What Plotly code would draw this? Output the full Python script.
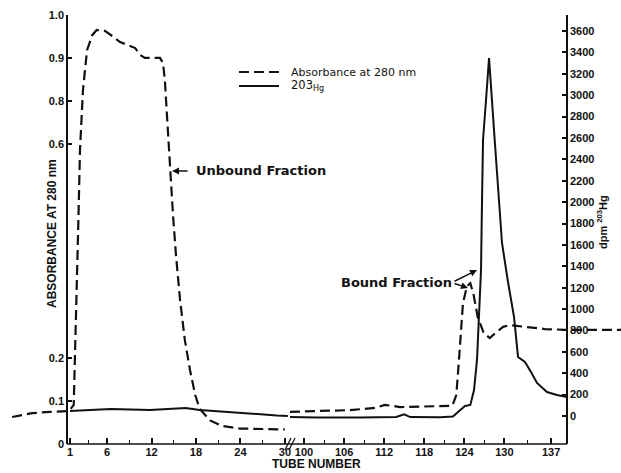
import plotly.graph_objects as go

W, H = 621, 473
ML, MR, MT, MB = 10, 0, 15, 29

# ---------------- data ----------------
# Absorbance at 280 nm, tubes 1-30 (before axis break)
abs_tube_a = [-6.8, -4.1, -1.7, 0.9, 1.5, 1.8, 2.1, 2.35, 2.75, 3.3, 4.0, 4.6, 5.7, 6.7,
              7.75, 8.8, 9.8, 10.45, 11.1, 13.15, 13.55, 13.8, 14.1, 14.5, 14.9, 15.3,
              15.85, 16.5, 17.2, 17.9, 18.5, 19.9, 21.5, 23.9, 30.0]
abs_val_a = [0.063, 0.072, 0.075, 0.077, 0.091, 0.266, 0.499, 0.685, 0.825, 0.918, 0.953,
             0.965, 0.963, 0.951, 0.937, 0.930, 0.923, 0.907, 0.900, 0.900, 0.888, 0.848,
             0.755, 0.639, 0.534, 0.441, 0.336, 0.242, 0.172, 0.114, 0.082, 0.055, 0.042,
             0.036, 0.034]
# Absorbance at 280 nm, tubes 100-137 (after axis break)
abs_tube_b = [97.9, 102.4, 106.9, 110.6, 112.1, 113.2, 114.4, 122.2, 122.8, 123.2, 123.8,
              124.4, 124.9, 125.4, 126.0, 126.9, 127.8, 128.7, 129.8, 130.8, 133.1, 136.1,
              139.4, 147.5]
abs_val_b = [0.075, 0.077, 0.079, 0.084, 0.091, 0.089, 0.086, 0.089, 0.114, 0.196, 0.329,
             0.368, 0.375, 0.347, 0.296, 0.259, 0.247, 0.259, 0.273, 0.277, 0.273, 0.268,
             0.266, 0.266]
# 203Hg dpm
hg_tube_a = [1, 3.7, 6.5, 11.8, 16.6, 18.5, 23.7, 28.9, 30.4]
hg_val_a = [47, 56, 65, 56, 75, 56, 28, 5, 0]
hg_tube_b = [97.9, 101.9, 108.4, 113.8, 115.0, 115.9, 120.4, 122.3, 123.1, 124.1, 124.9,
             125.45, 125.9, 126.2, 126.5, 126.65, 126.8, 127.25, 127.7, 128.6, 129.64,
             130.54, 131.44, 132.04, 133.08, 133.98, 134.88, 136.38, 137.87, 139.37]
hg_val_b = [-10, -15, -15, -10, 15, -10, -12, -5, 40, 94, 103, 243, 524, 898, 1365, 2020,
            2581, 2955, 3348, 2534, 1618, 1253, 926, 552, 505, 411, 309, 224, 196, 178]

# axis ticks
abs_tickvals = [0, 0.1, 0.2, 0.7, 0.8, 0.9, 1.0]
abs_ticktext = ["0", "0.1", "0.2", "0.6", "0.8", "0.9", "1.0"]
hg_tickvals = list(range(0, 3601, 200))
tube_ticks_a = [1, 6, 12, 18, 24, 30]
tube_minor_a = [3.5, 9, 15, 21, 27]
tube_ticks_b = [100, 106, 112, 118, 124, 130, 137]
tube_minor_b = [103, 109, 115, 121, 127, 133.5]

# ---------------- layout helpers ----------------
PW = W - ML - MR
PH = H - MT - MB


def px_x(px):
    return (px - ML) / PW


def px_y(py):
    return (H - MB - py) / PH


FONT = "Liberation Sans, Arial, sans-serif"
WIDE = "DejaVu Sans, Verdana, sans-serif"
BLACK = "#111111"
DASH = "10px,5px"

fig = go.Figure()
fig.add_trace(go.Scatter(x=abs_tube_a, y=abs_val_a, mode="lines", xaxis="x", yaxis="y",
                         line=dict(color=BLACK, width=2.2, dash=DASH), showlegend=False,
                         name="Absorbance at 280 nm"))
fig.add_trace(go.Scatter(x=abs_tube_b, y=abs_val_b, mode="lines", xaxis="x2", yaxis="y",
                         line=dict(color=BLACK, width=2.2, dash=DASH), showlegend=False,
                         name="Absorbance at 280 nm"))
fig.add_trace(go.Scatter(x=hg_tube_a, y=hg_val_a, mode="lines", xaxis="x", yaxis="y2",
                         line=dict(color=BLACK, width=2), showlegend=False, name="203Hg"))
fig.add_trace(go.Scatter(x=hg_tube_b, y=hg_val_b, mode="lines", xaxis="x2", yaxis="y2",
                         line=dict(color=BLACK, width=2), showlegend=False, name="203Hg"))

# x segment ranges from pixel layout: tube 1 at 70px, 7.41 px/tube; tube 100 at 304px, 6.68 px/tube
BREAK_PX = 290
xa_range = [1 + (ML - 70) / 7.41, 1 + (BREAK_PX - 70) / 7.41]
xb_range = [100 + (BREAK_PX - 304) / 6.68, 100 + (W - MR - 304) / 6.68]

tickfont = dict(family=FONT, size=11, color=BLACK, weight="bold")

common_x = dict(showline=False, showgrid=False, zeroline=False, ticks="inside", ticklen=6,
                tickwidth=1.5, tickcolor=BLACK, tickfont=tickfont, anchor="y",
                tickmode="array", automargin=False)

fig.update_layout(
    width=W, height=H,
    margin=dict(l=ML, r=MR, t=MT, b=MB, autoexpand=False),
    paper_bgcolor="white", plot_bgcolor="white",
    showlegend=False,
    xaxis=dict(domain=[0, px_x(BREAK_PX)], range=xa_range, tickvals=tube_ticks_a,
               minor=dict(tickmode="array", tickvals=tube_minor_a, ticks="inside", ticklen=4,
                          tickwidth=1.2, tickcolor=BLACK),
               **common_x),
    xaxis2=dict(domain=[px_x(BREAK_PX), 1], range=xb_range, tickvals=tube_ticks_b,
                minor=dict(tickmode="array", tickvals=tube_minor_b, ticks="inside", ticklen=4,
                           tickwidth=1.2, tickcolor=BLACK),
                **common_x),
    yaxis=dict(range=[0, 1.0], anchor="free", position=px_x(67), side="left",
               tickmode="array", tickvals=abs_tickvals, ticktext=abs_ticktext,
               showline=True, linecolor=BLACK, linewidth=1.6, showgrid=False, zeroline=False,
               ticks="inside", ticklen=4, tickwidth=1.5, tickcolor=BLACK, tickfont=tickfont,
               automargin=False),
    yaxis2=dict(range=[-261.8, 3749.8], anchor="free", position=px_x(567), side="right",
                overlaying="y", tickmode="array", tickvals=hg_tickvals,
                showline=True, linecolor=BLACK, linewidth=1.6, showgrid=False, zeroline=False,
                ticks="inside", ticklen=4, tickwidth=1.5, tickcolor=BLACK, tickfont=tickfont,
                automargin=False),
)

shapes = [
    # bottom axis line
    dict(type="line", xref="paper", yref="paper", x0=px_x(67), x1=px_x(567), y0=0, y1=0,
         line=dict(color=BLACK, width=1.6)),
    # axis break marks
    dict(type="line", xref="paper", yref="paper", x0=px_x(285), x1=px_x(291),
         y0=px_y(450), y1=px_y(438), line=dict(color=BLACK, width=1.3)),
    dict(type="line", xref="paper", yref="paper", x0=px_x(289), x1=px_x(295),
         y0=px_y(450), y1=px_y(438), line=dict(color=BLACK, width=1.3)),
    # legend samples
    dict(type="line", xref="paper", yref="paper", x0=px_x(239), x1=px_x(279),
         y0=px_y(72), y1=px_y(72), line=dict(color=BLACK, width=2.2, dash=DASH)),
    dict(type="line", xref="paper", yref="paper", x0=px_x(239), x1=px_x(279),
         y0=px_y(86), y1=px_y(86), line=dict(color=BLACK, width=2)),
]
fig.update_layout(shapes=shapes)

label_font = dict(family=WIDE, size=13, color=BLACK, weight="bold")
title_font = dict(family=FONT, size=12, color=BLACK, weight="bold")
legend_font = dict(family=WIDE, size=11, color=BLACK)

ann = [
    dict(text="ABSORBANCE AT 280 nm", x=px_x(43), y=px_y(234), textangle=-90, font=title_font),
    dict(text="TUBE NUMBER", x=px_x(316), y=px_y(464), font=title_font),
    dict(text="dpm <sup>203</sup>Hg", x=px_x(611), y=px_y(222), textangle=-90,
         font=dict(family=FONT, size=11, color=BLACK, weight="bold")),
    dict(text="Absorbance at 280 nm", x=px_x(289), y=px_y(72), xanchor="left", font=legend_font),
    dict(text="203<sub>Hg</sub>", x=px_x(289), y=px_y(85), xanchor="left",
         font=dict(family=WIDE, size=11.5, color=BLACK)),
    dict(text="Unbound Fraction", x=px_x(194), y=px_y(170), xanchor="left", font=label_font),
    dict(text="Bound Fraction", x=px_x(339), y=px_y(282), xanchor="left", font=label_font),
]
for a in ann:
    a.update(xref="paper", yref="paper", showarrow=False, yanchor="middle")

arrows = [
    ((172, 171), (189, 171)),
    ((477, 270), (453, 282)),
    ((468, 288), (453, 283)),
]
for (tip, tail) in arrows:
    ann.append(dict(text="", x=px_x(tip[0]), y=px_y(tip[1]), xref="paper", yref="paper",
                    ax=tail[0] - tip[0], ay=tail[1] - tip[1], showarrow=True, arrowhead=2,
                    arrowsize=1, arrowwidth=1.4, arrowcolor=BLACK, standoff=0))
fig.update_layout(annotations=ann)

fig.write_html("out.html", config={"displayModeBar": False},
               post_script="document.body.style.margin='0';document.body.style.padding='0';")
